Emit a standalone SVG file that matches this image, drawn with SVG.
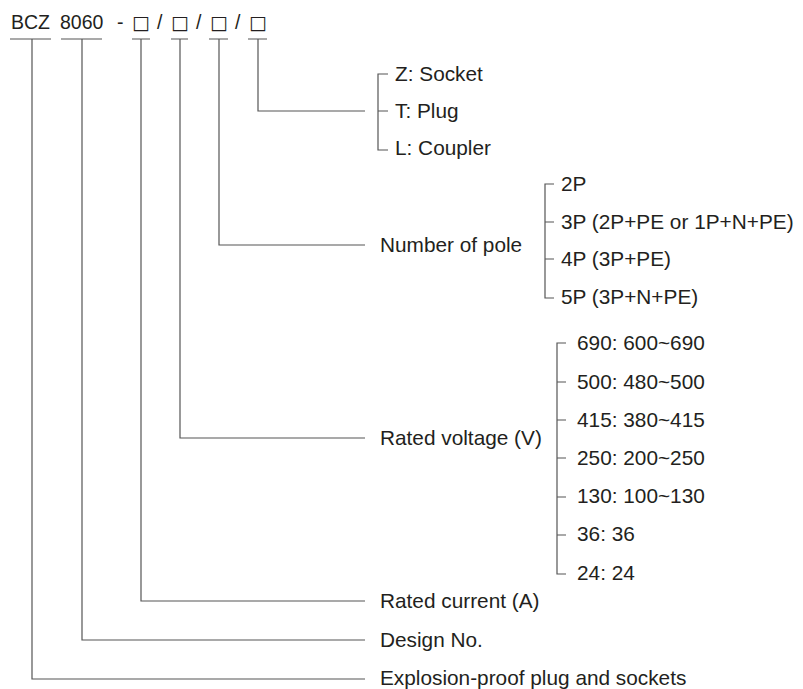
<svg xmlns="http://www.w3.org/2000/svg" width="803" height="689" viewBox="0 0 803 689">
<style>
text{font-family:"Liberation Sans",Arial,sans-serif;font-size:20.8px;fill:#231f20}
.h{font-size:19.5px}
.bx{font-family:"DejaVu Sans","Liberation Sans",sans-serif;font-size:19px}
.ln{fill:none;stroke:#555;stroke-width:1.2}
</style>
<rect width="803" height="689" fill="#fff"/>
<g id="code">
<text class="h" x="11" y="29">BCZ</text>
<text class="h" x="60" y="29">8060</text>
<text class="h" x="117" y="29">-</text>
<text class="bx" x="132" y="29">□</text>
<text class="h" x="157" y="29">/</text>
<text class="bx" x="171" y="29">□</text>
<text class="h" x="196" y="29">/</text>
<text class="bx" x="210" y="29">□</text>
<text class="h" x="235" y="29">/</text>
<text class="bx" x="249" y="29">□</text>
</g>
<g id="connectors" class="ln">
<path d="M10 39H51M61 39H102M132 39H150M171 39H188M209 39H228M248 39H267"/>
<path d="M32 39V679H365"/>
<path d="M82 39V640H365"/>
<path d="M141 39V601H365"/>
<path d="M180 39V438H365"/>
<path d="M219 39V245H365"/>
<path d="M258 39V111H365"/>
<path d="M388 74H378V150H388M378 111H388"/>
<path d="M554 184H545V298H554M545 222H554M545 259H554"/>
<path d="M566 343H557V574H566M557 382H566M557 420H566M557 458H566M557 497H566M557 535H566"/>
</g>
<g id="type">
<text x="395" y="81">Z: Socket</text>
<text x="395" y="118">T: Plug</text>
<text x="395" y="155">L: Coupler</text>
</g>
<g id="pole">
<text x="380" y="252">Number of pole</text>
<text x="561" y="191">2P</text>
<text x="561" y="229">3P (2P+PE or 1P+N+PE)</text>
<text x="561" y="266">4P (3P+PE)</text>
<text x="561" y="304">5P (3P+N+PE)</text>
</g>
<g id="voltage">
<text x="380" y="445">Rated voltage (V)</text>
<text x="577" y="350">690: 600~690</text>
<text x="577" y="389">500: 480~500</text>
<text x="577" y="427">415: 380~415</text>
<text x="577" y="465">250: 200~250</text>
<text x="577" y="503">130: 100~130</text>
<text x="577" y="541">36: 36</text>
<text x="577" y="580">24: 24</text>
</g>
<g id="current"><text x="380" y="608">Rated current (A)</text></g>
<g id="design"><text x="380" y="647">Design No.</text></g>
<g id="product"><text x="380" y="685">Explosion-proof plug and sockets</text></g>
</svg>
